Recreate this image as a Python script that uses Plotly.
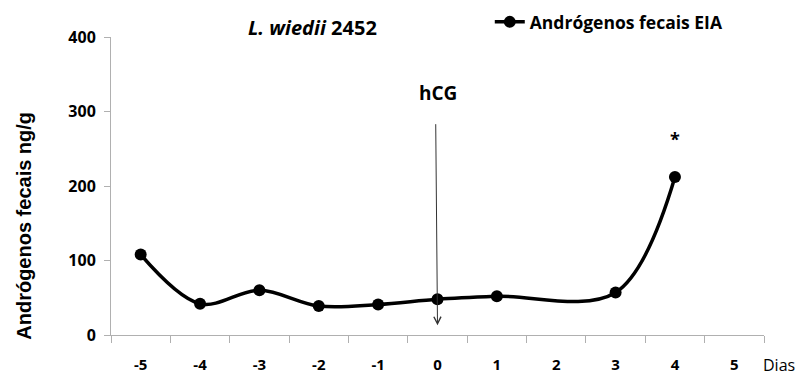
import plotly.graph_objects as go

dias = [-5, -4, -3, -2, -1, 0, 1, 2, 3, 4, 5]
androgenos = [108, 42, 60, 39, 41, 48, 52, None, 57, 212, None]
y_ticks = [0, 100, 200, 300, 400]

FONT = "Open Sans"
AXC = "#b0b0b0"

fig = go.Figure()
fig.add_trace(go.Scatter(
    x=dias, y=androgenos, mode="lines+markers", name="Andrógenos fecais EIA",
    connectgaps=True,
    line=dict(color="black", width=3.5, shape="spline", smoothing=1.0),
    marker=dict(color="black", size=12),
))
# dummy trace for label axis
fig.add_trace(go.Scatter(x=dias, y=[None]*len(dias), xaxis="x2", showlegend=False, hoverinfo="skip"))

bounds = [d - 0.5 for d in dias] + [dias[-1] + 0.5]

fig.update_layout(
    width=799, height=376,
    margin=dict(l=111, r=35, t=37, b=41, autoexpand=False),
    paper_bgcolor="white", plot_bgcolor="white",
    font=dict(family=FONT, color="black"),
    showlegend=True,
    legend=dict(xref="container", yref="container", x=0.613, y=0.9415,
                xanchor="left", yanchor="middle",
                font=dict(family=FONT, size=17.5, color="black", weight="bold"),
                bgcolor="rgba(0,0,0,0)", itemwidth=30),
    xaxis=dict(range=[-5.5, 5.5], tickvals=bounds, ticktext=[""]*len(bounds),
               ticks="outside", ticklen=7, tickcolor=AXC, showline=True,
               linecolor=AXC, linewidth=1, showgrid=False, zeroline=False, automargin=False),
    xaxis2=dict(range=[-5.5, 5.5], overlaying="x", side="bottom", tickvals=dias,
                ticktext=[str(d) for d in dias], ticks="outside", ticklen=16,
                tickcolor="rgba(0,0,0,0)", showline=False, showgrid=False, zeroline=False,
                automargin=False,
                tickfont=dict(family=FONT, size=15, color="black", weight="bold")),
    yaxis=dict(range=[0, 400], tickvals=y_ticks, ticks="outside", ticklen=6,
               tickcolor=AXC, showline=True, linecolor=AXC, linewidth=1,
               showgrid=False, zeroline=False, ticklabelstandoff=5, automargin=False,
               tickfont=dict(family=FONT, size=16, color="black", weight="bold")),
)

fig.add_annotation(xref="paper", yref="paper", x=-0.153, y=0.367, text="Andrógenos fecais ng/g",
                   textangle=-90, showarrow=False,
                   font=dict(family="Liberation Sans", size=20, color="black", weight="bold"))
fig.add_annotation(xref="paper", yref="paper", x=0.207, y=1.033,
                   text="<i>L. wiedii</i> 2452", showarrow=False, yanchor="middle",
                   font=dict(family=FONT, size=20, color="black", weight="bold"))
fig.add_annotation(xref="paper", yref="paper", x=1.0505, y=-0.101, text="Dias",
                   showarrow=False, xanchor="right", yanchor="middle",
                   font=dict(family=FONT, size=16, color="black"))
fig.add_annotation(x=0, y=13, ax=-0.03, ay=285, xref="x", yref="y", axref="x", ayref="y",
                   text="", showarrow=True, arrowhead=5, arrowsize=1.4, arrowwidth=1,
                   arrowcolor="#333333")
fig.add_annotation(x=0, y=325, xref="x", yref="y", text="hCG", showarrow=False,
                   font=dict(family=FONT, size=19, color="black", weight="bold"))
fig.add_annotation(x=4, y=263, xref="x", yref="y", text="*", showarrow=False,
                   font=dict(family=FONT, size=18, color="black", weight="bold"))

fig.write_html("out.html")
